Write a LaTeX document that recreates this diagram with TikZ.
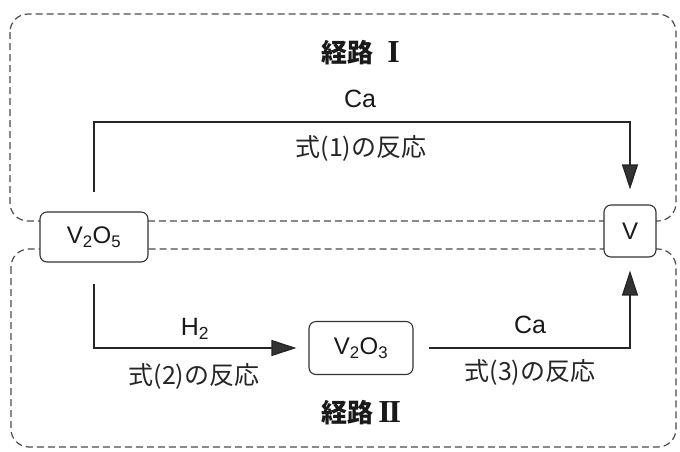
\documentclass[tikz,border=0pt]{standalone}
\usepackage{fontspec}
\setmainfont{Liberation Sans}
\newfontfamily\jp{Noto Sans CJK JP}
\newfontfamily\romfont{Liberation Serif}
\usetikzlibrary{arrows.meta}
\begin{document}
\begin{tikzpicture}[x=1pt,y=-1pt,
  region/.style={draw=black!70, line width=1.2pt, dash pattern=on 7pt off 4pt, rounded corners=18pt},
  chem/.style={draw=black!80, fill=white, line width=1.1pt, rounded corners=7pt,
    font=\fontsize{24}{28}\selectfont, inner sep=0pt, text=black!90},
  flow/.style={line width=1.4pt, draw=black!85,
    -{Triangle[length=25pt,width=16pt,fill=black!80]}},
  reagent/.style={font=\fontsize{25}{28}\selectfont, inner sep=0pt, text=black!90},
  lbl/.style={font=\jp\fontsize{25}{28}\selectfont, inner sep=0pt, text=black!85},
  title/.style={font=\jp\bfseries\fontsize{26}{30}\selectfont, inner sep=0pt, text=black!90},
  numeral/.style={font=\romfont\bfseries\fontsize{32}{34}\selectfont, inner sep=0pt, text=black!90, anchor=base west}]
\useasboundingbox (0,0) rectangle (680,451);
% dashed regions
\draw[region] (10,14) rectangle (676,221);
\draw[region] (11,249) rectangle (676,447);
% nodes
\node[chem, minimum width=108pt, minimum height=50pt] (v2o5) at (94,237) {V\textsubscript{2}O\textsubscript{5}};
\node[chem, minimum width=52pt, minimum height=52pt] (v) at (630,231) {V};
\node[chem, minimum width=104pt, minimum height=53pt] (v2o3) at (361,348) {V\textsubscript{2}O\textsubscript{3}};
% titles
\node[title] (t1) at (347,53) {経路};
\node[numeral] at ([xshift=14pt]t1.base east) {I};
\node[title] (t2) at (347,413) {経路};
\node[numeral] at ([xshift=5pt]t2.base east) {I\kern-2.2ptI};
% route I
\draw[flow, shorten <=19pt, shorten >=15pt] (v2o5.north) -- (v2o5.north |- 0,122) -- (v.north |- 0,122) -- (v.north);
\node[reagent] (ca1) at (360,99) {Ca};
\node[lbl] (r1) at (361,148) {式(1)の反応};
% route II
\draw[flow, shorten <=21pt, shorten >=12pt] (v2o5.south) -- (v2o5.south |- v2o3.west) -- (v2o3.west);
\draw[flow, shorten <=15pt, shorten >=13pt] (v2o3.east) -- (v.south |- v2o3.east) -- (v.south);
\node[reagent] (h2) at (195,329) {H\textsubscript{2}};
\node[lbl] (r2) at (194,376) {式(2)の反応};
\node[reagent] (ca2) at (530,325) {Ca};
\node[lbl] (r3) at (530,372) {式(3)の反応};
\end{tikzpicture}
\end{document}
